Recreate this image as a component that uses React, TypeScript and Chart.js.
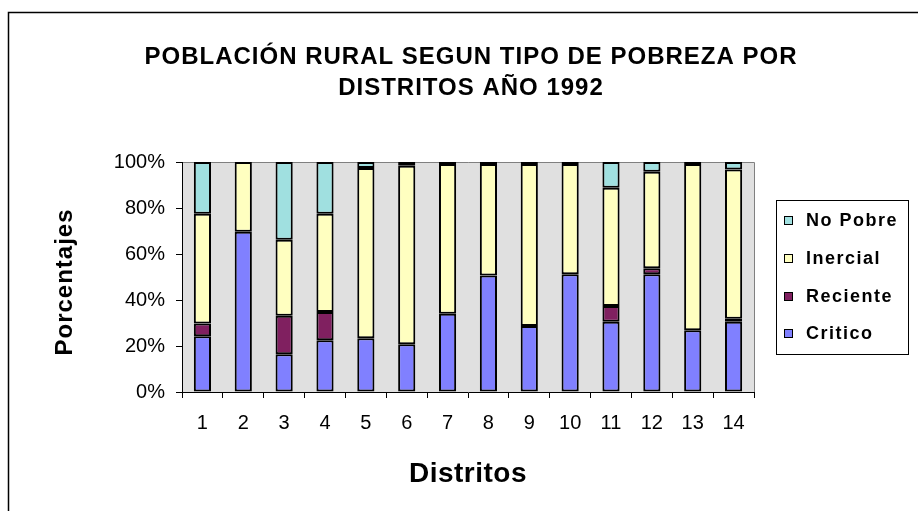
import React, { useEffect, useRef } from "react";
import { Chart, registerables } from "chart.js";

Chart.register(...registerables);

const distritos = ["1", "2", "3", "4", "5", "6", "7", "8", "9", "10", "11", "12", "13", "14"];
const critico = [24.2, 69.7, 16.4, 22.5, 23.4, 20.8, 34.0, 50.7, 28.7, 51.2, 30.5, 51.2, 26.9, 30.5];
const reciente = [5.6, 0, 16.7, 12.3, 0, 0, 0, 0, 0, 0, 6.9, 2.6, 0, 1.4];
const inercial = [47.7, 30.3, 33.1, 42.7, 74.0, 77.6, 65.1, 48.4, 70.4, 47.9, 51.4, 42.0, 72.2, 64.8];
const noPobre = [22.5, 0, 33.8, 22.5, 2.6, 1.6, 0.9, 0.9, 0.9, 0.9, 11.2, 4.2, 0.9, 3.3];
const yTicks = [0, 20, 40, 60, 80, 100];

const titleLines = ["POBLACIÓN RURAL SEGUN TIPO DE POBREZA POR", "DISTRITOS AÑO 1992"];
const xTitle = "Distritos";
const yTitle = "Porcentajes";

const FONT = "'Liberation Sans', Arial, sans-serif";

const seriesNames = ["Critico", "Reciente", "Inercial", "No Pobre"];
const seriesColors = ["#8080FF", "#802060", "#FFFFC0", "#A0E0E0"];

const decorPlugin = {
  id: "decor",
  beforeDraw(chart: any) {
    const { ctx, chartArea, width, height } = chart;
    ctx.save();
    ctx.fillStyle = "#ffffff";
    ctx.fillRect(0, 0, width, height);
    ctx.fillStyle = "#E0E0E0";
    ctx.fillRect(chartArea.left, chartArea.top, chartArea.right - chartArea.left, chartArea.bottom - chartArea.top);
    ctx.strokeStyle = "#000";
    ctx.lineWidth = 1.5;
    ctx.beginPath();
    ctx.moveTo(8.5, height + 5);
    ctx.lineTo(8.5, 12.5);
    ctx.lineTo(width + 5, 12.5);
    ctx.stroke();
    ctx.strokeStyle = "#808080";
    ctx.lineWidth = 1;
    ctx.beginPath();
    ctx.moveTo(chartArea.left, chartArea.top + 0.5);
    ctx.lineTo(chartArea.right + 0.5, chartArea.top + 0.5);
    ctx.lineTo(chartArea.right + 0.5, chartArea.bottom);
    ctx.stroke();
    ctx.restore();
  },
  afterDraw(chart: any) {
    const { ctx } = chart;
    ctx.save();
    ctx.fillStyle = "#000";
    ctx.textAlign = "center";
    ctx.textBaseline = "middle";
    ctx.font = `bold 24px ${FONT}`;
    (ctx as any).letterSpacing = "1px";
    ctx.fillText(titleLines[0], 471, 57);
    ctx.fillText(titleLines[1], 471, 88);
    ctx.font = `bold 28px ${FONT}`;
    (ctx as any).letterSpacing = "0.5px";
    ctx.fillText(xTitle, 468, 474);
    ctx.save();
    ctx.translate(65, 282);
    ctx.rotate(-Math.PI / 2);
    ctx.font = `bold 24px ${FONT}`;
    (ctx as any).letterSpacing = "1px";
    ctx.fillText(yTitle, 0, 0);
    ctx.restore();

    const lx = 776, ly = 200, lw = 132, lh = 154;
    ctx.strokeStyle = "#000";
    ctx.lineWidth = 1;
    ctx.strokeRect(lx + 0.5, ly + 0.5, lw, lh);
    const order = [3, 2, 1, 0];
    const ys = [220, 258, 296, 333];
    ctx.textAlign = "left";
    ctx.font = `bold 18px ${FONT}`;
    (ctx as any).letterSpacing = "1.5px";
    order.forEach((si, i) => {
      const y = ys[i];
      ctx.fillStyle = seriesColors[si];
      ctx.fillRect(784, y - 4, 9, 9);
      ctx.strokeStyle = "#000";
      ctx.strokeRect(784.5, y - 3.5, 8, 8);
      ctx.fillStyle = "#000";
      ctx.fillText(seriesNames[si], 806, y + 1);
    });
    ctx.restore();
  },
};

export default function App() {
  const ref = useRef<HTMLCanvasElement>(null);
  useEffect(() => {
    document.body.style.margin = "0";
    const data = [critico, reciente, inercial, noPobre];
    const chart = new Chart(ref.current!, {
      type: "bar",
      data: {
        labels: distritos,
        datasets: data.map((d, i) => ({
          label: seriesNames[i],
          data: d,
          backgroundColor: seriesColors[i],
          borderColor: "#000",
          borderWidth: 2,
          borderSkipped: false,
          categoryPercentage: 1,
          barPercentage: 0.42,
        })),
      },
      options: {
        animation: false,
        responsive: false,
        devicePixelRatio: 1,
        layout: { padding: { left: 0, right: 164, top: 162, bottom: 0 } },
        plugins: {
          legend: { display: false },
          title: { display: false },
          tooltip: { enabled: false },
        },
        scales: {
          x: {
            stacked: true,
            afterFit(scale: any) {
              scale.height = 119;
            },
            grid: { drawOnChartArea: false, drawTicks: true, tickLength: 6, color: "#000", offset: true },
            border: { color: "#000", width: 1 },
            ticks: { color: "#000", font: { family: FONT, size: 20 }, padding: 13, maxRotation: 0 },
          },
          y: {
            stacked: true,
            min: 0,
            max: 100,
            afterFit(scale: any) {
              scale.width = 182;
            },
            afterBuildTicks(scale: any) {
              scale.ticks = yTicks.map((v) => ({ value: v }));
            },
            grid: { drawOnChartArea: false, drawTicks: true, tickLength: 6, color: "#000" },
            border: { color: "#000", width: 1 },
            ticks: {
              color: "#000",
              font: { family: FONT, size: 20 },
              padding: 11,
              callback: (v: any) => `${v}%`,
            },
          },
        },
      },
      plugins: [decorPlugin],
    });
    return () => chart.destroy();
  }, []);
  return (
    <div style={{ width: 918, height: 511 }}>
      <canvas ref={ref} width={918} height={511} />
    </div>
  );
}
